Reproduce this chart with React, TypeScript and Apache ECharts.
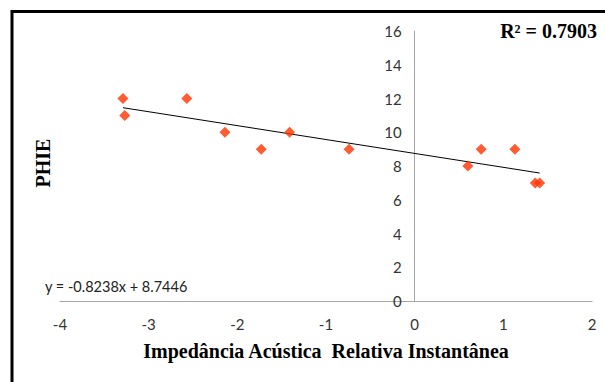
import React, { useEffect, useRef } from "react";
import * as echarts from "echarts";

const xValues = [-3.29, -3.27, -2.57, -2.14, -1.73, -1.41, -0.74, 0.6, 0.75, 1.13, 1.36, 1.41];
const yValues = [12, 11, 12, 10, 9, 10, 9, 8, 9, 9, 7, 7];
const slope = -0.8238;
const intercept = 8.7446;
const xTitle = "Impedância Acústica  Relativa Instantânea";
const yTitle = "PHIE";
const r2Text = "R² = 0.7903";
const eqText = "y = -0.8238x + 8.7446";

export default function App() {
  const ref = useRef<HTMLDivElement>(null);
  useEffect(() => {
    if (!ref.current) return;
    const chart = echarts.init(ref.current, null, { renderer: "svg" });
    const pts = xValues.map((x, i) => [x, yValues[i]]);
    const xmin = Math.min(...xValues);
    const xmax = Math.max(...xValues);
    const trend = [
      [xmin, slope * xmin + intercept],
      [xmax, slope * xmax + intercept],
    ];
    const gridLeft = 60;
    const gridRight = 13;
    const plotW = 605 - gridLeft - gridRight;
    const zeroOffset = -(plotW * 4) / 6;
    chart.setOption({
      animation: false,
      backgroundColor: "#fff",
      grid: { left: gridLeft, right: gridRight, top: 31, bottom: 81 },
      xAxis: {
        type: "value",
        min: -4,
        max: 2,
        interval: 1,
        splitLine: { show: false },
        axisLine: { show: true, onZero: false, lineStyle: { color: "#a6a6a6", width: 1 } },
        axisTick: { show: false },
        axisLabel: { color: "#333", fontFamily: "Lato", fontSize: 15, margin: 15 },
        name: xTitle,
        nameLocation: "middle",
        nameGap: 40,
        nameTextStyle: { fontFamily: "Liberation Serif", fontWeight: "bold", fontSize: 20, color: "#000" },
      },
      yAxis: [
        {
          type: "value",
          min: 0,
          max: 16,
          interval: 2,
          position: "left",
          offset: zeroOffset,
          splitLine: { show: false },
          axisLine: { show: true, onZero: false, lineStyle: { color: "#a6a6a6", width: 1 } },
          axisTick: { show: false },
          axisLabel: { color: "#333", fontFamily: "Lato", fontSize: 15, margin: 13 },
        },
        {
          type: "value",
          min: 0,
          max: 16,
          interval: 2,
          position: "left",
          offset: 0,
          splitLine: { show: false },
          axisLine: { show: false },
          axisTick: { show: false },
          axisLabel: { show: false },
          name: yTitle,
          nameLocation: "middle",
          nameRotate: 90,
          nameGap: 7,
          nameTextStyle: { fontFamily: "Liberation Serif", fontWeight: "bold", fontSize: 20, color: "#000", padding: [0, 0, 0, 6] },
        },
      ],
      series: [
        {
          type: "scatter",
          data: pts,
          symbol: "diamond",
          symbolSize: 11,
          itemStyle: { color: "#ff3300" },
          z: 3,
        },
        {
          type: "line",
          data: trend,
          symbol: "none",
          lineStyle: { color: "#000", width: 1 },
          z: 2,
        },
      ],
      graphic: [
        {
          type: "rect",
          shape: { x: 12, y: 11.5, width: 700, height: 500 },
          style: { fill: "none", stroke: "#000", lineWidth: 3 },
          silent: true,
        },
        {
          type: "text",
          x: 597,
          y: 31,
          style: {
            text: r2Text,
            fontFamily: "Liberation Serif",
            fontWeight: "bold",
            fontSize: 20,
            fill: "#000",
            align: "right",
            verticalAlign: "middle",
          },
        },
        {
          type: "text",
          x: 45,
          y: 286,
          style: {
            text: eqText,
            fontFamily: "Lato",
            fontSize: 14.5,
            fill: "#222",
            align: "left",
            verticalAlign: "middle",
          },
        },
      ],
    });
    return () => chart.dispose();
  }, []);
  return <div ref={ref} style={{ width: 605, height: 382, position: "absolute", left: 0, top: 0 }} />;
}
